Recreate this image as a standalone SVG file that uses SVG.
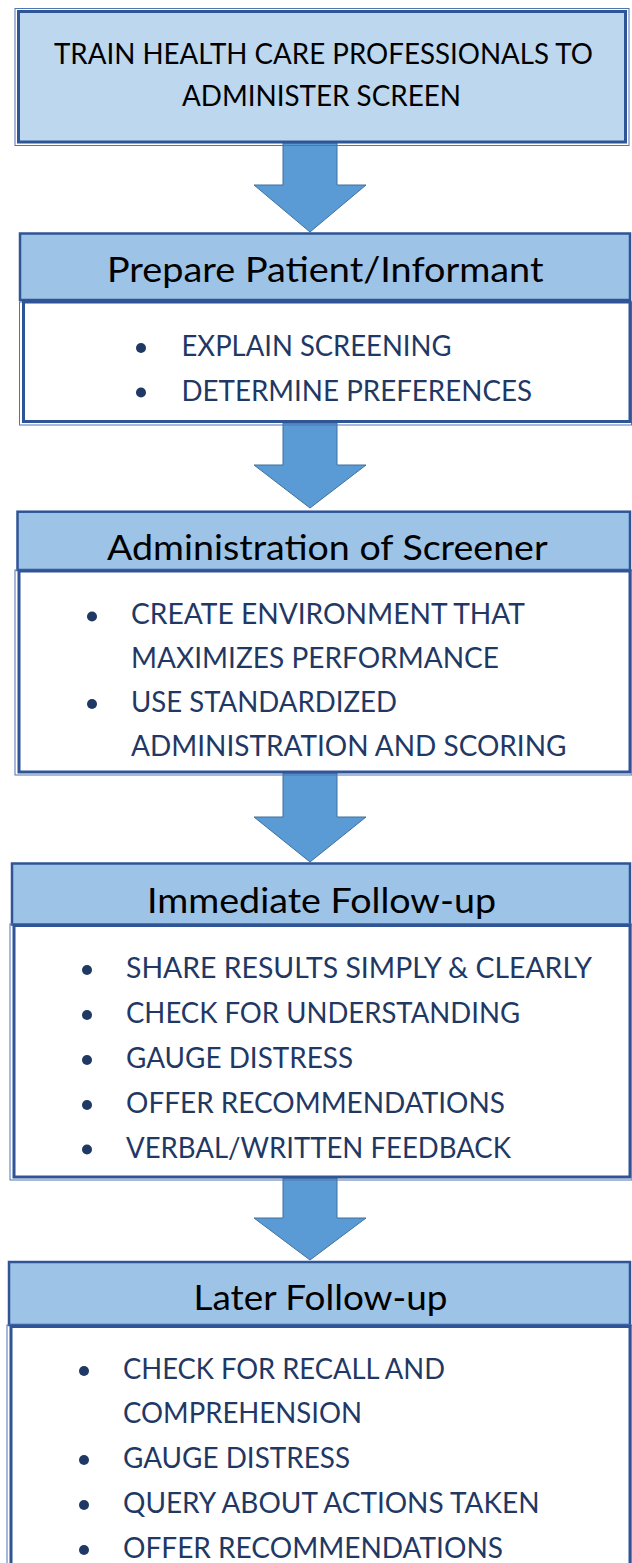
<svg xmlns="http://www.w3.org/2000/svg" width="632" height="1563" viewBox="0 0 632 1563">
<style>
.outer{fill:none;stroke:#4F74B4;stroke-width:1}
.top{fill:#BDD7EE;stroke:#2F5597;stroke-width:3}
.hdr{fill:#9DC3E6;stroke:#2F5597;stroke-width:2.5}
.body{fill:#FFFFFF;stroke:#2F5597;stroke-width:3}
.arrow{fill:#5B9BD5;stroke:#41719C;stroke-width:1}
.title{font-family:Lato,"Open Sans","Liberation Sans",sans-serif;font-size:28.5px;fill:#000000}
.head{font-family:Lato,"Open Sans","Liberation Sans",sans-serif;font-size:34px;fill:#000000}
.item{font-family:Lato,"Open Sans","Liberation Sans",sans-serif;font-size:28px;fill:#1F3864}
.dot{fill:#1F3864}
</style>
<rect width="632" height="1563" fill="#FFFFFF"/>
<g id="connectors">
<polygon class="arrow" points="283,143 337,143 337,185 366,185 310,232 254,185 283,185"/>
<polygon class="arrow" points="283,423 337,423 337,465 366,465 310,508 254,465 283,465"/>
<polygon class="arrow" points="283,773 337,773 337,817 366,817 310,862 254,817 283,817"/>
<polygon class="arrow" points="283,1178 337,1178 337,1218 366,1218 310,1260 254,1218 283,1218"/>
</g>
<g id="train">
<rect class="outer" x="15" y="8.5" width="614" height="137"/>
<rect class="top" x="18.5" y="11.5" width="607" height="130.5"/>
<text class="title" x="54" y="64" textLength="539" lengthAdjust="spacingAndGlyphs">TRAIN HEALTH CARE PROFESSIONALS TO</text>
<text class="title" x="182" y="106" textLength="279" lengthAdjust="spacingAndGlyphs">ADMINISTER SCREEN</text>
</g>
<g id="prepare">
<rect class="hdr" x="20" y="233.5" width="610" height="66.5"/>
<text class="head" x="107" y="281.7" textLength="436.5" lengthAdjust="spacingAndGlyphs">Prepare Patient/Informant</text>
<rect class="outer" x="19.5" y="302" width="612" height="123"/>
<rect class="body" x="23.5" y="302" width="606.5" height="119.5"/>
<circle class="dot" cx="141" cy="348" r="5"/>
<text class="item" x="181.5" y="356" textLength="270" lengthAdjust="spacingAndGlyphs">EXPLAIN SCREENING</text>
<circle class="dot" cx="141" cy="392.5" r="5"/>
<text class="item" x="181.5" y="401" textLength="350.5" lengthAdjust="spacingAndGlyphs">DETERMINE PREFERENCES</text>
</g>
<g id="administration">
<rect class="hdr" x="17.5" y="511.7" width="612.5" height="58.3"/>
<text class="head" x="107" y="560" textLength="440.6" lengthAdjust="spacingAndGlyphs">Administration of Screener</text>
<rect class="outer" x="15" y="570" width="617" height="205"/>
<rect class="body" x="19" y="571" width="611" height="201"/>
<circle class="dot" cx="92" cy="616.5" r="5"/>
<text class="item" x="131" y="624" textLength="394" lengthAdjust="spacingAndGlyphs">CREATE ENVIRONMENT THAT</text>
<text class="item" x="131" y="667.5" textLength="368" lengthAdjust="spacingAndGlyphs">MAXIMIZES PERFORMANCE</text>
<circle class="dot" cx="92" cy="704" r="5"/>
<text class="item" x="131" y="711.5" textLength="266" lengthAdjust="spacingAndGlyphs">USE STANDARDIZED</text>
<text class="item" x="131" y="756" textLength="435.5" lengthAdjust="spacingAndGlyphs">ADMINISTRATION AND SCORING</text>
</g>
<g id="immediate">
<rect class="hdr" x="12" y="863.5" width="618" height="61"/>
<text class="head" x="147" y="912.5" textLength="349" lengthAdjust="spacingAndGlyphs">Immediate Follow-up</text>
<rect class="outer" x="10" y="924" width="622" height="256"/>
<rect class="body" x="14" y="925.5" width="616" height="251.5"/>
<circle class="dot" cx="87" cy="970" r="5"/>
<text class="item" x="126" y="978" textLength="466" lengthAdjust="spacingAndGlyphs">SHARE RESULTS SIMPLY &amp; CLEARLY</text>
<circle class="dot" cx="87" cy="1015" r="5"/>
<text class="item" x="126" y="1023" textLength="394" lengthAdjust="spacingAndGlyphs">CHECK FOR UNDERSTANDING</text>
<circle class="dot" cx="87" cy="1060" r="5"/>
<text class="item" x="126" y="1068" textLength="227" lengthAdjust="spacingAndGlyphs">GAUGE DISTRESS</text>
<circle class="dot" cx="87" cy="1105" r="5"/>
<text class="item" x="126" y="1113" textLength="379" lengthAdjust="spacingAndGlyphs">OFFER RECOMMENDATIONS</text>
<circle class="dot" cx="87" cy="1149.5" r="5"/>
<text class="item" x="126" y="1157.5" textLength="385" lengthAdjust="spacingAndGlyphs">VERBAL/WRITTEN FEEDBACK</text>
</g>
<g id="later">
<rect class="hdr" x="9" y="1262" width="621" height="63"/>
<text class="head" x="193.5" y="1310" textLength="254" lengthAdjust="spacingAndGlyphs">Later Follow-up</text>
<rect class="outer" x="7" y="1325" width="625" height="260"/>
<rect class="body" x="11" y="1326.5" width="619" height="260"/>
<circle class="dot" cx="84" cy="1371" r="5"/>
<text class="item" x="123" y="1379" textLength="322" lengthAdjust="spacingAndGlyphs">CHECK FOR RECALL AND</text>
<text class="item" x="123" y="1423" textLength="239" lengthAdjust="spacingAndGlyphs">COMPREHENSION</text>
<circle class="dot" cx="84" cy="1460" r="5"/>
<text class="item" x="123" y="1468" textLength="227" lengthAdjust="spacingAndGlyphs">GAUGE DISTRESS</text>
<circle class="dot" cx="84" cy="1505" r="5"/>
<text class="item" x="123" y="1513" textLength="416.5" lengthAdjust="spacingAndGlyphs">QUERY ABOUT ACTIONS TAKEN</text>
<circle class="dot" cx="84" cy="1550" r="5"/>
<text class="item" x="123" y="1558" textLength="380" lengthAdjust="spacingAndGlyphs">OFFER RECOMMENDATIONS</text>
</g>
</svg>
